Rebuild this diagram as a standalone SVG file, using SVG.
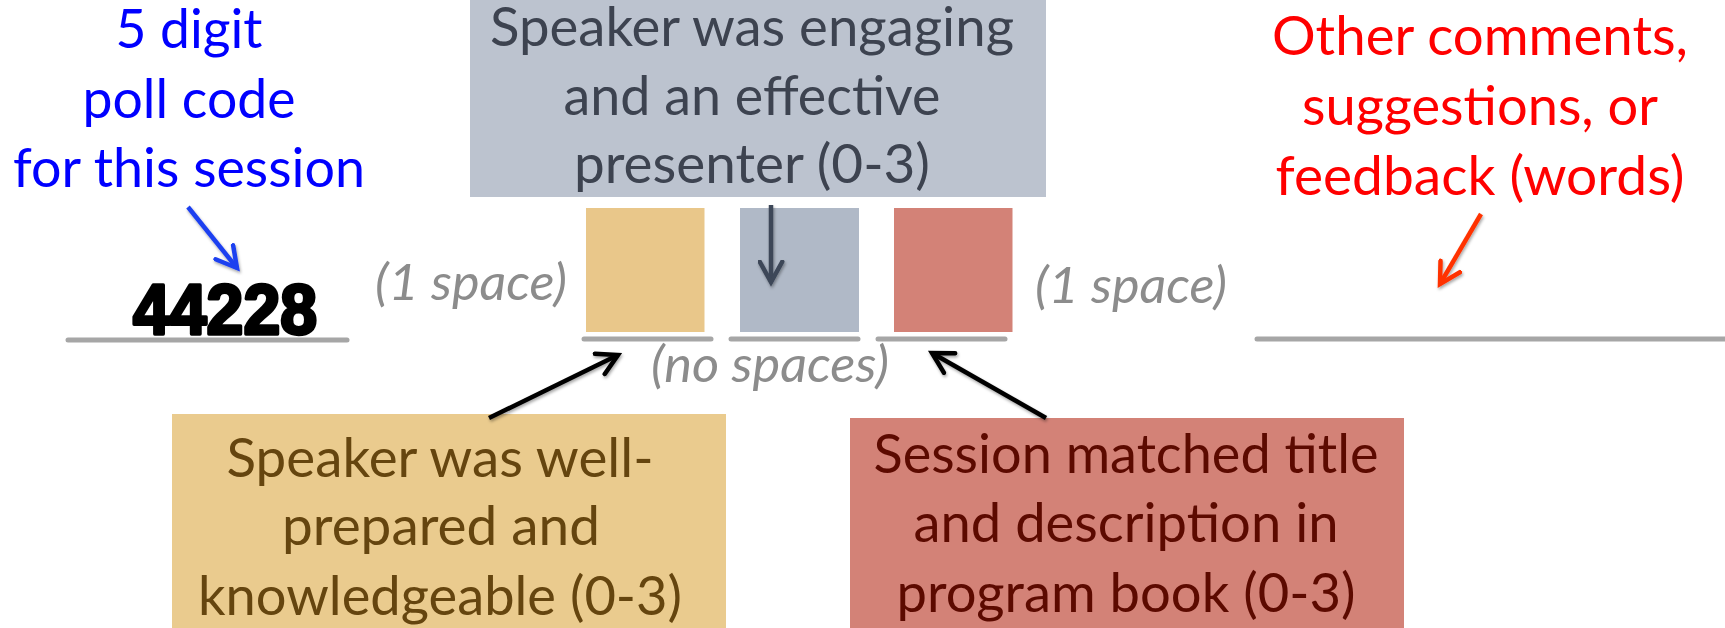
<svg xmlns="http://www.w3.org/2000/svg" width="1725" height="628" viewBox="0 0 1725 628">
<defs>
<style>
.t{font-family:Lato,"Open Sans","Liberation Sans",sans-serif;font-size:54px;text-anchor:middle}
.it{font-family:Lato,"Open Sans","Liberation Sans",sans-serif;font-size:50px;font-style:italic;fill:#8c8c8c}
.ul{stroke:#a6a6a6;stroke-width:5;stroke-linecap:round}
.ar{fill:none;stroke-width:4.5}
</style>
<filter id="sh" x="-20%" y="-20%" width="140%" height="140%">
<feDropShadow dx="1" dy="2" stdDeviation="1.5" flood-color="#000" flood-opacity="0.35"/>
</filter>
<marker id="mBlue" viewBox="0 0 12 12" refX="10" refY="6" markerWidth="6" markerHeight="6" markerUnits="strokeWidth" orient="auto">
<path d="M1,1 L10,6 L1,11" fill="none" stroke="#1f40f0" stroke-width="2" stroke-linecap="round"/>
</marker>
<marker id="mDark" viewBox="0 0 12 12" refX="10" refY="6" markerWidth="6" markerHeight="6" markerUnits="strokeWidth" orient="auto">
<path d="M1,1 L10,6 L1,11" fill="none" stroke="#3c4658" stroke-width="2" stroke-linecap="round"/>
</marker>
<marker id="mBlack" viewBox="0 0 12 12" refX="10" refY="6" markerWidth="6" markerHeight="6" markerUnits="strokeWidth" orient="auto">
<path d="M1,1 L10,6 L1,11" fill="none" stroke="#000" stroke-width="2" stroke-linecap="round"/>
</marker>
<marker id="mRed" viewBox="0 0 12 12" refX="10" refY="6" markerWidth="6" markerHeight="6" markerUnits="strokeWidth" orient="auto">
<path d="M1,1 L10,6 L1,11" fill="none" stroke="#ff3300" stroke-width="2" stroke-linecap="round"/>
</marker>
</defs>
<rect width="1725" height="628" fill="#fff"/>

<g id="poll-label">
<text class="t" fill="#0000ff" x="189" y="48" textLength="147" lengthAdjust="spacingAndGlyphs">5 digit</text>
<text class="t" fill="#0000ff" x="189" y="118" textLength="213" lengthAdjust="spacingAndGlyphs">poll code</text>
<text class="t" fill="#0000ff" x="189" y="187" textLength="352" lengthAdjust="spacingAndGlyphs">for this session</text>
</g>

<g id="poll-code">
<text x="225" y="334" text-anchor="middle" font-family="'Liberation Sans',Arial,sans-serif" font-weight="bold" font-size="71" fill="#000" stroke="#000" stroke-width="3.5" stroke-linejoin="round" textLength="184" lengthAdjust="spacingAndGlyphs">44228</text>
<line class="ul" x1="68" y1="340" x2="347" y2="340"/>
</g>

<g id="space-left"><text class="it" x="375" y="300" textLength="192" lengthAdjust="spacingAndGlyphs">(1 space)</text></g>

<g id="engaging-label">
<rect x="470" y="0" width="576" height="197" fill="#bcc3cf"/>
<text class="t" fill="#3d4350" x="752" y="46" textLength="524" lengthAdjust="spacingAndGlyphs">Speaker was engaging</text>
<text class="t" fill="#3d4350" x="752" y="115" textLength="377" lengthAdjust="spacingAndGlyphs">and an effective</text>
<text class="t" fill="#3d4350" x="752" y="183" textLength="356" lengthAdjust="spacingAndGlyphs">presenter (0-3)</text>
</g>

<g id="box-prepared">
<rect x="586" y="208" width="118.5" height="124" fill="#e9c78a"/>
<line class="ul" x1="584" y1="339" x2="711" y2="339"/>
</g>
<g id="box-engaging">
<rect x="740" y="208" width="119" height="124" fill="#b0b9c7"/>
<line class="ul" x1="731" y1="339" x2="858" y2="339"/>
</g>
<g id="box-matched">
<rect x="894" y="208" width="118.5" height="124" fill="#d38277"/>
<line class="ul" x1="878" y1="339" x2="1005" y2="339"/>
</g>

<g id="no-spaces"><text class="it" x="651" y="382" textLength="238" lengthAdjust="spacingAndGlyphs">(no spaces)</text></g>

<g id="space-right"><text class="it" x="1035" y="303" textLength="192" lengthAdjust="spacingAndGlyphs">(1 space)</text></g>

<g id="comments-label">
<text class="t" fill="#ff0000" x="1480" y="55" textLength="416" lengthAdjust="spacingAndGlyphs">Other comments,</text>
<text class="t" fill="#ff0000" x="1480" y="125" textLength="356" lengthAdjust="spacingAndGlyphs">suggestions, or</text>
<text class="t" fill="#ff0000" x="1480" y="195" textLength="409" lengthAdjust="spacingAndGlyphs">feedback (words)</text>
</g>

<g id="comments-field">
<line class="ul" x1="1257" y1="339" x2="1728" y2="339"/>
</g>

<g id="prepared-label">
<rect x="172" y="414" width="554" height="214" fill="#eacb8e"/>
<text class="t" fill="#65450f" x="440" y="477" textLength="427" lengthAdjust="spacingAndGlyphs">Speaker was well-</text>
<text class="t" fill="#65450f" x="441" y="545" textLength="318" lengthAdjust="spacingAndGlyphs">prepared and</text>
<text class="t" fill="#65450f" x="440" y="615" textLength="484" lengthAdjust="spacingAndGlyphs">knowledgeable (0-3)</text>
</g>

<g id="matched-label">
<rect x="850" y="418" width="554" height="210" fill="#d38277"/>
<text class="t" fill="#5c0a00" x="1126" y="473" textLength="505" lengthAdjust="spacingAndGlyphs">Session matched title</text>
<text class="t" fill="#5c0a00" x="1126" y="542" textLength="425" lengthAdjust="spacingAndGlyphs">and description in</text>
<text class="t" fill="#5c0a00" x="1126" y="612" textLength="459" lengthAdjust="spacingAndGlyphs">program book (0-3)</text>
</g>

<g id="connectors" filter="url(#sh)">
<line class="ar" x1="188" y1="207" x2="237" y2="268" stroke="#1f40f0" marker-end="url(#mBlue)"/>
<line class="ar" x1="771" y1="205" x2="771" y2="282" stroke="#3c4658" marker-end="url(#mDark)"/>
<line class="ar" x1="489" y1="418" x2="618" y2="355" stroke="#000" marker-end="url(#mBlack)"/>
<line class="ar" x1="1046" y1="418" x2="932" y2="353" stroke="#000" marker-end="url(#mBlack)"/>
<line class="ar" x1="1481" y1="214" x2="1440" y2="284" stroke="#ff3300" marker-end="url(#mRed)"/>
</g>
</svg>
